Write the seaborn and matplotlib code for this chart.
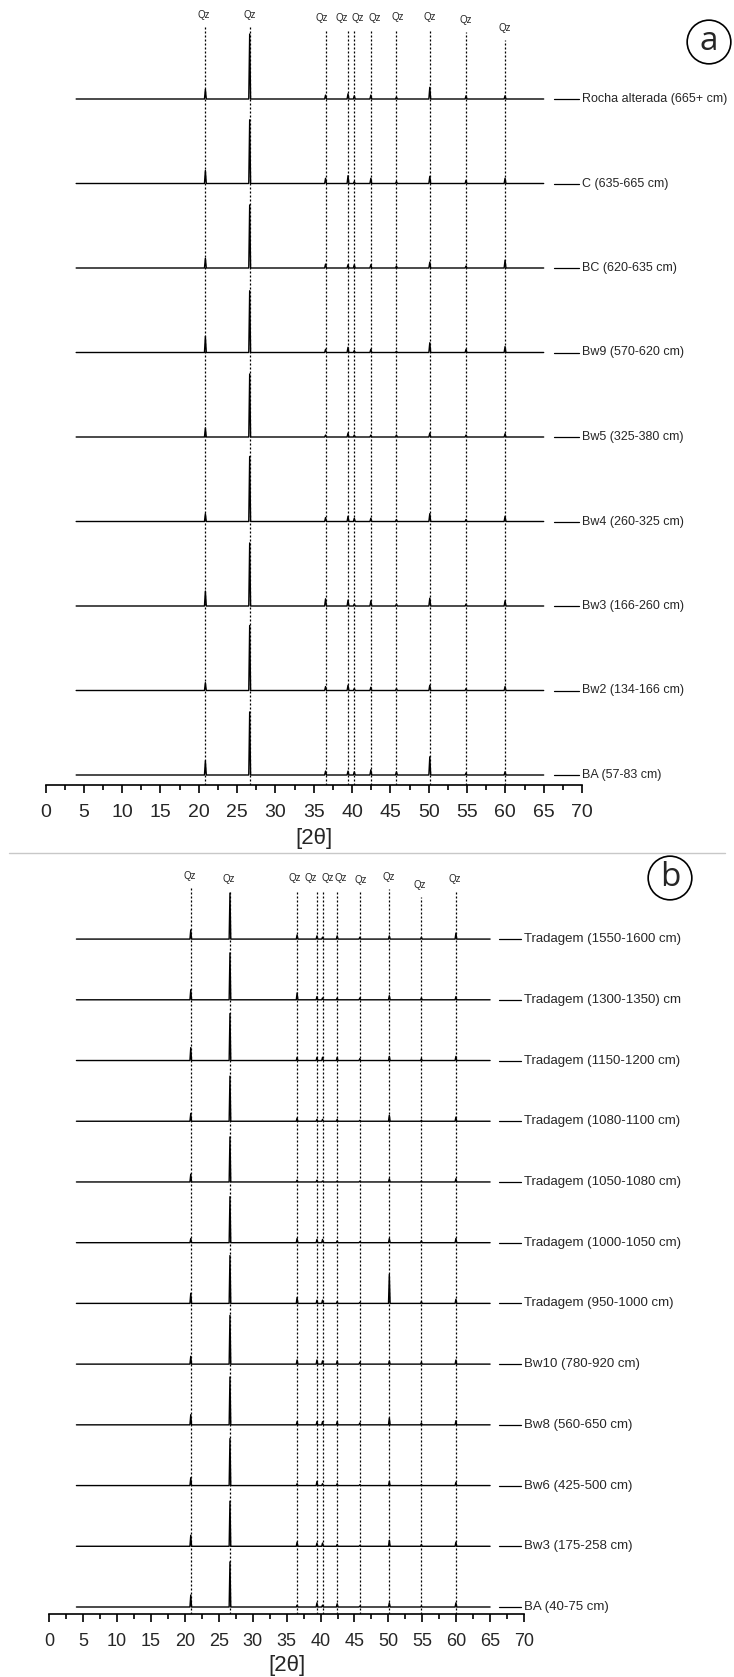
import numpy as np
import pandas as pd
import matplotlib
matplotlib.use('Agg')
import matplotlib.pyplot as plt
import seaborn as sns
from matplotlib.lines import Line2D

sns.set_style('white')
plt.rcParams['font.family'] = ['Liberation Sans', 'DejaVu Sans']

# quartz reflections (2 theta)
qz_pos = [20.86, 26.64, 36.54, 39.47, 40.29, 42.45, 45.79, 50.14, 54.87, 59.96]
qz_label_x_a = [20.7, 26.6, 36.1, 38.7, 40.8, 42.9, 46.0, 50.2, 54.8, 59.9]
qz_label_x_b = [20.7, 26.5, 36.2, 38.6, 41.0, 43.0, 46.0, 50.0, 54.7, 59.8]

# panel a - top to bottom, relative intensity of each Qz reflection
samples_a = ['Rocha alterada (665+ cm)', 'C (635-665 cm)', 'BC (620-635 cm)',
             'Bw9 (570-620 cm)', 'Bw5 (325-380 cm)', 'Bw4 (260-325 cm)',
             'Bw3 (166-260 cm)', 'Bw2 (134-166 cm)', 'BA (57-83 cm)']
heights_a = [
    [15, 100, 6, 8, 5, 6, 3, 18, 5, 5],
    [20, 98, 8, 12, 3, 8, 3, 11, 5, 8],
    [15, 97, 6, 5, 5, 5, 3, 9, 3, 12],
    [25, 95, 5, 8, 3, 5, 2, 15, 5, 9],
    [14, 97, 3, 6, 3, 3, 3, 6, 3, 5],
    [12, 100, 6, 8, 5, 5, 3, 12, 3, 8],
    [23, 97, 11, 9, 3, 8, 3, 12, 3, 8],
    [12, 100, 6, 8, 3, 5, 3, 8, 3, 6],
    [22, 97, 6, 6, 5, 8, 5, 28, 3, 5],
]

# panel b
samples_b = ['Tradagem (1550-1600 cm)', 'Tradagem (1300-1350) cm', 'Tradagem (1150-1200 cm)',
             'Tradagem (1080-1100 cm)', 'Tradagem (1050-1080 cm)', 'Tradagem (1000-1050 cm)',
             'Tradagem (950-1000 cm)', 'Bw10 (780-920 cm)', 'Bw8 (560-650 cm)',
             'Bw6 (425-500 cm)', 'Bw3 (175-258 cm)', 'BA (40-75 cm)']
heights_b = [
    [20, 100, 9, 7, 4, 7, 4, 7, 4, 13],
    [22, 102, 15, 7, 4, 4, 4, 9, 4, 7],
    [28, 102, 7, 7, 7, 7, 4, 9, 4, 9],
    [17, 98, 7, 4, 4, 4, 2, 13, 2, 9],
    [17, 98, 4, 4, 2, 2, 2, 7, 2, 7],
    [9, 100, 9, 7, 7, 4, 2, 9, 4, 9],
    [22, 104, 13, 7, 7, 4, 2, 63, 4, 9],
    [17, 106, 9, 9, 7, 7, 4, 7, 4, 9],
    [22, 104, 7, 7, 7, 7, 4, 15, 4, 9],
    [17, 102, 4, 9, 4, 4, 2, 9, 2, 7],
    [24, 98, 9, 7, 7, 4, 2, 13, 4, 9],
    [26, 98, 4, 9, 4, 7, 2, 9, 2, 9],
]

scan_start, scan_end = 4.0, 65.0


def build_traces(samples, heights, step):
    rows = []
    n = len(samples)
    for i, (name, h) in enumerate(zip(samples, heights)):
        base = (n - 1 - i) * step
        xs, ys = [scan_start], [0]
        for p, v in zip(qz_pos, h):
            xs += [p - 0.12, p, p + 0.12]
            ys += [0, v, 0]
        xs.append(scan_end)
        ys.append(0)
        for x, y in zip(xs, ys):
            rows.append((name, x, y + base))
    return pd.DataFrame(rows, columns=['sample', 'two_theta', 'intensity'])


def draw_panel(ax, samples, heights, step, ymin, ymax, px, label_x, label_px,
               label_fs, tick_fs, tick_pad, xlab_pad):
    df = build_traces(samples, heights, step)
    sns.lineplot(data=df, x='two_theta', y='intensity', units='sample', estimator=None,
                 sort=False, color='black', lw=1.0, legend=False, ax=ax)
    n = len(samples)
    # dotted reference lines + Qz labels
    for p, lx, lp in zip(qz_pos, label_x, label_px):
        ytxt = ymax - lp / px
        ax.plot([p, p], [ymin, ytxt - 12 / px], color='black', lw=0.9,
                linestyle=(0, (1.6, 1.6)), zorder=1)
        ax.text(lx, ytxt, 'Qz', fontsize=7, ha='center', va='center')
    # sample labels on the right
    for i, name in enumerate(samples):
        base = (n - 1 - i) * step
        ax.plot([66.3, 69.6], [base, base], color='black', lw=0.9, clip_on=False)
        ax.text(70.0, base, name, fontsize=label_fs, ha='left', va='center', clip_on=False)
    ax.set_xlim(0, 70)
    ax.set_ylim(ymin, ymax)
    for s in ['top', 'left', 'right']:
        ax.spines[s].set_visible(False)
    ax.spines['bottom'].set_linewidth(1.2)
    ax.spines['bottom'].set_color('black')
    ax.set_yticks([])
    ax.set_xticks(np.arange(0, 71, 5))
    ax.set_xticks(np.arange(0, 71, 2.5), minor=True)
    ax.tick_params(axis='x', which='major', length=6, width=1.2, labelsize=tick_fs,
                   pad=tick_pad, direction='out', bottom=True, color='black')
    ax.tick_params(axis='x', which='minor', length=3.5, width=1.2, direction='out',
                   bottom=True, color='black')
    ax.set_ylabel('')
    ax.set_xlabel('[2θ]', fontsize=16, labelpad=xlab_pad)
    ax.patch.set_alpha(0)


W, H = 734, 1677
fig = plt.figure(figsize=(W / 100, H / 100), dpi=100)

# panel a: x axis 45.5 -> 582 px, bottom spine at 785 px from top
px_a = 0.65
ax_a = fig.add_axes([45.5 / W, (H - 785) / H, 536.5 / W, 785 / H])
ymin_a = -10 / px_a
draw_panel(ax_a, samples_a, heights_a, 130, ymin_a, ymin_a + 785 / px_a, px_a,
           qz_label_x_a, [15, 15, 18, 18, 18, 18, 17, 17, 20, 28], 9, 14, 8, 5)

# panel b: x axis 49.3 -> 524 px, bottom spine at 1614 px
px_b = 0.46
ax_b = fig.add_axes([49.3 / W, (H - 1614) / H, 474.7 / W, 754 / H])
ymin_b = -7 / px_b
draw_panel(ax_b, samples_b, heights_b, 132, ymin_b, ymin_b + 754 / px_b, px_b,
           qz_label_x_b, [16, 19, 18, 18, 18, 18, 20, 17, 25, 19], 9.5, 13, 8, 3)

# separator between panels
fig.add_artist(Line2D([9 / W, 725 / W], [1 - 853 / H, 1 - 853 / H], color='#c8c8c8', lw=1))

# panel letters
for letter, (cx, cy) in [('a', (709, 42)), ('b', (670, 878))]:
    fig.text(cx / W, 1 - cy / H, letter, fontsize=24, family='Open Sans', ha='center', va='center',
             bbox=dict(boxstyle='circle,pad=0.16', fc='white', ec='black', lw=1.2))

fig.savefig('out.png', dpi=100)
